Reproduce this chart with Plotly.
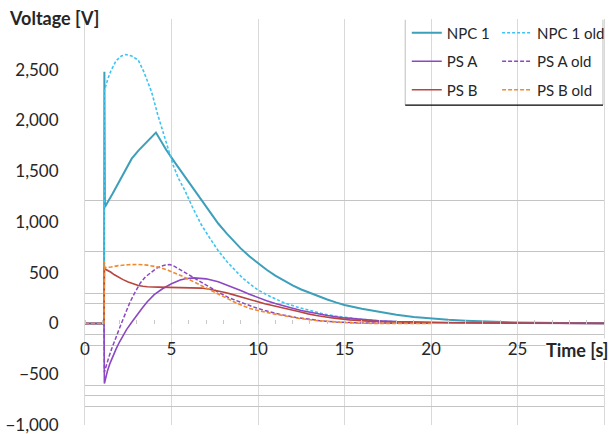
import plotly.graph_objects as go

# ---------------- data ----------------
npc1_t = [0, 1.10, 1.12, 1.15, 1.6, 2.0, 2.4, 2.7, 3.1, 3.5, 3.8, 4.1, 4.4, 4.7, 5.2, 5.8,
          6.2, 6.7, 7.2, 7.7, 8.2, 8.6, 9.0, 9.5, 10.0, 10.5, 11.0, 11.5, 12.0, 12.5, 13.0,
          13.5, 14.0, 14.5, 15.0, 16.0, 17.0, 18.0, 19.0, 20.0, 21.0, 22.0, 23.5, 25.0, 27.5, 30.0]
npc1_v = [0, 0, 2480, 1147, 1280, 1400, 1520, 1624, 1706, 1772, 1825, 1881, 1795, 1710, 1585, 1440,
          1340, 1215, 1095, 985, 885, 810, 740, 662, 592, 530, 472, 421, 375, 335, 300,
          266, 236, 208, 183, 145, 112, 86, 64, 48, 36, 27, 17, 10, 5, 2]

npc1_old_t = [0, 1.10, 1.12, 1.3, 1.5, 1.8, 2.1, 2.35, 2.7, 3.08, 3.4, 3.85, 4.2, 4.62, 5.1,
              5.4, 5.77, 6.2, 6.7, 7.2, 7.69, 8.2, 8.7, 9.1, 9.52, 10.0, 10.6, 11.4, 12.2,
              12.98, 13.7, 14.5, 15.2, 16.0, 17.0, 18.0, 19.0, 20.0]
npc1_old_v = [0, 0, 2290, 2400, 2490, 2590, 2635, 2650, 2635, 2594, 2480, 2281, 2060, 1824, 1558,
              1430, 1312, 1150, 980, 845, 720, 610, 516, 450, 391, 330, 275, 212, 165,
              128, 97, 72, 55, 40, 26, 15, 9, 6]

psa_t = [0, 1.10, 1.12, 1.2, 1.3, 1.45, 1.6, 1.8, 2.0, 2.2, 2.4, 2.69, 3.0, 3.3, 3.6, 4.0,
         4.5, 5.0, 5.5, 5.8, 6.3, 7.0, 7.7, 8.4, 9.0, 9.5, 10.0, 10.5, 11.0, 11.5, 12.0,
         12.5, 13.0, 13.5, 14.0, 15.0, 16.0, 17.0, 18.0, 20.0, 22.5, 25.0, 30.0]
psa_v = [0, 0, -592, -530, -465, -390, -325, -250, -180, -115, -60, 10, 85, 150, 215, 285,
         345, 392, 428, 441, 450, 440, 412, 368, 325, 288, 255, 225, 198, 172, 150,
         128, 110, 93, 78, 55, 38, 26, 18, 10, 5, 3, 1]

psa_old_t = [0, 1.10, 1.12, 1.25, 1.4, 1.55, 1.7, 1.9, 2.1, 2.35, 2.6, 2.9, 3.2, 3.5, 3.85,
             4.1, 4.4, 4.65, 4.9, 5.15, 5.4, 5.7, 6.0, 6.5, 7.1, 7.7, 8.3, 9.0, 9.7, 10.4,
             11.4, 12.2, 13.0, 13.7, 14.5, 16.0, 18.0, 20.0]
psa_old_v = [0, 0, -480, -400, -320, -245, -175, -85, 0, 105, 210, 310, 400, 460, 510,
             540, 565, 577, 580, 565, 540, 510, 480, 424, 365, 309, 255, 210, 165, 128,
             85, 60, 40, 25, 15, 5, 3, 2]

psb_t = [0, 1.10, 1.12, 1.3, 1.5, 1.7, 1.92, 2.2, 2.5, 2.8, 3.08, 3.35, 3.6, 4.23, 5.0, 5.77,
         6.3, 6.73, 7.2, 7.69, 8.1, 8.4, 9.04, 9.52, 10.0, 10.39, 10.9, 11.44, 12.0, 12.4,
         12.9, 13.37, 14.3, 15.3, 16.4, 17.6, 20.0, 25.0, 30.0]
psb_v = [0, 0, 540, 525, 505, 480, 457, 432, 410, 390, 375, 367, 362, 358, 357, 356,
         354, 349, 338, 323, 305, 292, 260, 235, 212, 194, 174, 155, 132, 115,
         95, 79, 55, 36, 23, 15, 8, 3, 1]

psb_old_t = [0, 1.10, 1.12, 1.14, 1.5, 1.92, 2.5, 3.08, 3.6, 4.23, 4.8, 5.1, 5.38, 5.7, 6.0,
             6.54, 7.1, 7.69, 8.3, 8.85, 9.2, 9.52, 10.0, 10.39, 10.9, 11.44, 12.4, 13.37,
             14.3, 15.3, 16.0, 20.0]
psb_old_v = [0, 0, 605, 550, 556, 570, 579, 582, 575, 556, 525, 505, 483, 460, 435,
             391, 340, 293, 240, 194, 168, 148, 128, 112, 95, 79, 50, 30,
             15, 6, 2, 0]

x_ticks = [0, 5, 10, 15, 20, 25]
y_ticks = [-1000, -500, 0, 500, 1000, 1500, 2000, 2500]
y_ref_lines = [1213, 710, 295, 195, -105, -214, -611, -712, -818]

FONT = "Lato"

series = [
    ("NPC 1", npc1_t, npc1_v, "#3E9FBA", "solid", 2.0, "legend"),
    ("NPC 1 old", npc1_old_t, npc1_old_v, "#3CC4F2", "3px,2px", 1.6, "legend2"),
    ("PS A", psa_t, psa_v, "#8B48C2", "solid", 1.6, "legend"),
    ("PS A old", psa_old_t, psa_old_v, "#8B48C2", "4px,2px", 1.5, "legend2"),
    ("PS B", psb_t, psb_v, "#B8463F", "solid", 1.6, "legend"),
    ("PS B old", psb_old_t, psb_old_v, "#F08A2E", "4px,2px", 1.6, "legend2"),
]

fig = go.Figure()
for name, t, v, col, dash, w, lg in series:
    fig.add_trace(go.Scatter(
        x=t, y=v, mode="lines", name=name, legend=lg, legendgroup=name,
        line=dict(color=col, dash=dash, width=w),
    ))

# invisible trace on secondary y axis to carry the odd reference grid lines
fig.add_trace(go.Scatter(x=npc1_t[:1], y=npc1_v[:1], mode="lines", yaxis="y2",
                         showlegend=False, hoverinfo="skip", line=dict(width=0)))

fig.update_layout(
    width=611, height=434,
    margin=dict(l=85, r=7, t=19, b=9, autoexpand=False),
    paper_bgcolor="white", plot_bgcolor="white",
    font=dict(family=FONT, size=15, color="#262626"),
    xaxis=dict(
        range=[0, 30], tickvals=x_ticks, showgrid=True, gridcolor="#D9D9D9", gridwidth=1,
        zeroline=False, showline=False, ticks="", anchor="free", position=0.25,
        ticklabelstandoff=13, tickfont=dict(size=17),
        minor=dict(dtick=1, ticks="inside", ticklen=4, tickcolor="#C8C8C8", showgrid=False),
    ),
    yaxis=dict(
        range=[-1000, 3000], tickvals=y_ticks, tickformat=",", showgrid=False,
        zeroline=False, showline=True, mirror=True, linecolor="#D9D9D9", linewidth=1,
        ticks="", ticklabelstandoff=22, tickfont=dict(size=17), ticklabeloverflow="allow",
    ),
    yaxis2=dict(
        range=[-1000, 3000], overlaying="y", anchor="x", tickvals=y_ref_lines,
        showticklabels=False, showgrid=True, gridcolor="#C4C4C4", gridwidth=1,
        zeroline=False, showline=False, ticks="",
    ),
    legend=dict(x=0.62, y=1.006, xanchor="left", yanchor="top", bgcolor="rgba(0,0,0,0)",
                borderwidth=0, tracegroupgap=6, itemwidth=30, font=dict(size=15)),
    legend2=dict(x=0.794, y=1.006, xanchor="left", yanchor="top", bgcolor="rgba(0,0,0,0)",
                 borderwidth=0, tracegroupgap=6, itemwidth=30, font=dict(size=15)),
    showlegend=True,
)

# legend frame (grey sides, black bottom)
fig.add_shape(type="line", xref="paper", yref="paper", x0=0.617, x1=0.617, y0=0.788, y1=0.998,
              line=dict(color="#BFBFBF", width=1))
fig.add_shape(type="line", xref="paper", yref="paper", x0=0.998, x1=0.998, y0=0.788, y1=0.998,
              line=dict(color="#BFBFBF", width=1))
fig.add_shape(type="line", xref="paper", yref="paper", x0=0.617, x1=0.998, y0=0.788, y1=0.788,
              line=dict(color="#000000", width=1.2))

fig.add_annotation(text="<b>Voltage [V]</b>", xref="paper", yref="paper", x=-0.150, y=1.003,
                   xanchor="left", yanchor="middle", showarrow=False, font=dict(size=18))
fig.add_annotation(text="<b>Time [s]</b>", xref="paper", yref="paper", x=1.0125, y=0.185,
                   xanchor="right", yanchor="middle", showarrow=False, font=dict(size=18),
                   bgcolor="white", borderpad=0)

fig.write_html("out.html", config={"displayModeBar": False},
               post_script="document.body.style.margin='0px';")
